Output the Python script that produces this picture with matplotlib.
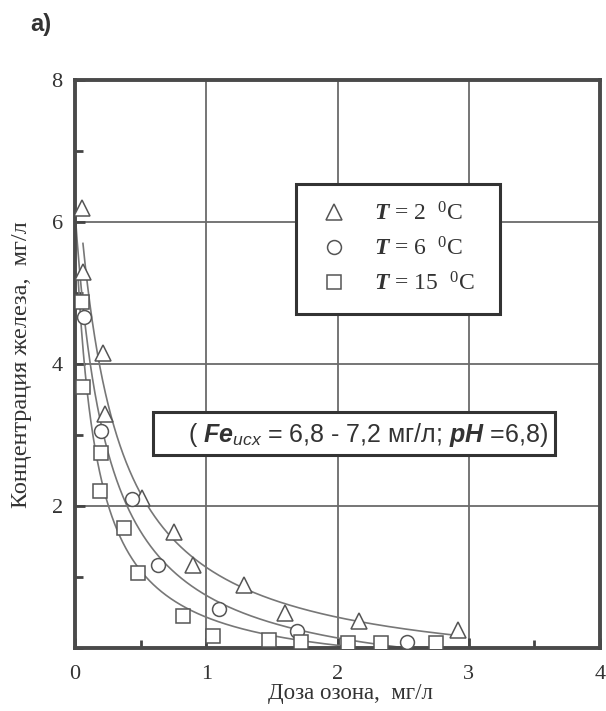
import numpy as np
import matplotlib
matplotlib.use("Agg")
import matplotlib.pyplot as plt
from matplotlib.ticker import MultipleLocator
from matplotlib.patches import Rectangle

# Ozone dose (mg/L) and residual iron concentration (mg/L) at three temperatures
dose_t2 = [0.05, 0.06, 0.21, 0.23, 0.51, 0.75, 0.90, 1.29, 1.60, 2.16, 2.92]
fe_t2 = [6.20, 5.30, 4.15, 3.30, 2.11, 1.64, 1.17, 0.89, 0.49, 0.38, 0.25]

dose_t6 = [0.07, 0.20, 0.43, 0.63, 1.10, 1.69, 2.53]
fe_t6 = [4.66, 3.06, 2.10, 1.17, 0.55, 0.24, 0.08]

dose_t15 = [0.05, 0.06, 0.20, 0.19, 0.37, 0.48, 0.82, 1.05, 1.48, 1.72, 2.08, 2.33, 2.75]
fe_t15 = [4.87, 3.68, 2.75, 2.21, 1.69, 1.05, 0.45, 0.17, 0.11, 0.08, 0.07, 0.07, 0.07]

legend_temps = ["2", "6", "15"]
x_ticks = [0, 1, 2, 3, 4]
y_ticks = [2, 4, 6, 8]

# Upper end (mg/L) and last dose of each trend curve
curve_top = [5.7, 6.73, 5.2]
curve_end = [2.88, 2.48, 2.75]

plt.rcParams["font.family"] = ["Liberation Serif", "DejaVu Serif"]
plt.rcParams["mathtext.fontset"] = "custom"
plt.rcParams["mathtext.rm"] = "Liberation Serif"
plt.rcParams["mathtext.it"] = "Liberation Serif:italic"
plt.rcParams["mathtext.bf"] = "Liberation Serif:bold:italic"
plt.rcParams["mathtext.sf"] = "Liberation Sans:bold:italic"
plt.rcParams["mathtext.cal"] = "Liberation Sans:italic"


def fit_hyperbola(x, y):
    """Least-squares fit of y = a / (x + b) + c; b by scan, a and c linear."""
    x = np.asarray(x, float)
    y = np.asarray(y, float)
    best = None
    for b in np.linspace(0.005, 1.0, 800):
        A = np.column_stack([1.0 / (x + b), np.ones_like(x)])
        coef, *_ = np.linalg.lstsq(A, y, rcond=None)
        err = np.sum((A @ coef - y) ** 2)
        if best is None or err < best[0]:
            best = (err, coef[0], b, coef[1])
    _, a, b, c = best
    return lambda t: a / (t + b) + c


fig = plt.figure(figsize=(6.06, 7.11), dpi=100)
ax = fig.add_axes([0.124, 0.0886, 0.866, 0.7989])

ax.set_xlim(0, 4)
ax.set_ylim(0, 8)
ax.set_xticks(x_ticks)
ax.set_yticks(y_ticks)
ax.xaxis.set_minor_locator(MultipleLocator(0.5))
ax.yaxis.set_minor_locator(MultipleLocator(1))
ax.grid(True, which="major", color="#6a6a6a", linewidth=1.3)
ax.set_axisbelow(True)
ax.tick_params(which="both", direction="in", colors="#444444", labelcolor="#333333",
               labelsize=16, width=2.0)
ax.tick_params(which="major", length=7)
ax.tick_params(axis="x", which="major", pad=12)
ax.tick_params(axis="y", which="major", pad=9)
ax.tick_params(which="minor", length=6)
for s in ax.spines.values():
    s.set_color("#4a4a4a")
    s.set_linewidth(2.8)

line_kw = dict(color="#777777", linewidth=1.2, zorder=2)
series = [(dose_t2, fe_t2, "^", 11), (dose_t6, fe_t6, "o", 10), (dose_t15, fe_t15, "s", 9.5)]
handles = []
for (dx, fy, mk, ms), ytop, xend in zip(series, curve_top, curve_end):
    f = fit_hyperbola(dx, fy)
    xs = np.linspace(0.0, xend, 3000)
    ys = f(xs)
    keep = ys <= ytop
    ax.plot(xs[keep], ys[keep], **line_kw)
    h, = ax.plot(dx, fy, linestyle="none", marker=mk, markersize=ms,
                 markerfacecolor="white", markeredgecolor="#555555", markeredgewidth=1.1,
                 zorder=3)
    handles.append(h)

# Legend with a hand-drawn frame
ax.add_patch(Rectangle((0.421, 0.588), 0.389, 0.229, transform=ax.transAxes,
                       facecolor="white", edgecolor="#333333", linewidth=2.2, zorder=4))
leg = ax.legend(handles,
                [r"$\mathbf{T}$ = 2  $^{0}$C".replace("2", t, 1) for t in legend_temps],
                loc="center", bbox_to_anchor=(0.612, 0.7025), frameon=False,
                fontsize=17, handletextpad=1.0, labelspacing=0.5,
                borderpad=0.0, handlelength=1.4, borderaxespad=0)
leg.set_zorder(5)
for t in leg.get_texts():
    t.set_color("#333333")

# Initial water conditions
ax.add_patch(Rectangle((0.594, 2.72), 3.063, 0.60, facecolor="white",
                       edgecolor="#333333", linewidth=2.2, zorder=4))
ax.text(2.229, 3.0,
        r"( $\mathsf{Fe}_{\mathcal{исх}}$ = 6,8 - 7,2 мг/л; $\mathsf{pH}$ =6,8)",
        ha="center", va="center", fontsize=18, color="#333333",
        family=["Liberation Sans", "DejaVu Sans"], zorder=5)

fig.text(0.578, 0.024, "Доза озона,  мг/л", ha="center", va="center", fontsize=16.5,
         color="#333333")
fig.text(0.036, 0.487, "Концентрация железа,  мг/л", ha="center", va="center",
         rotation=90, fontsize=17.5, color="#333333")
fig.text(0.068, 0.965, "а)", ha="center", va="center", fontsize=17, fontweight="bold",
         color="#333333", family=["Liberation Sans", "DejaVu Sans"])

fig.savefig("out.png", dpi=100)
